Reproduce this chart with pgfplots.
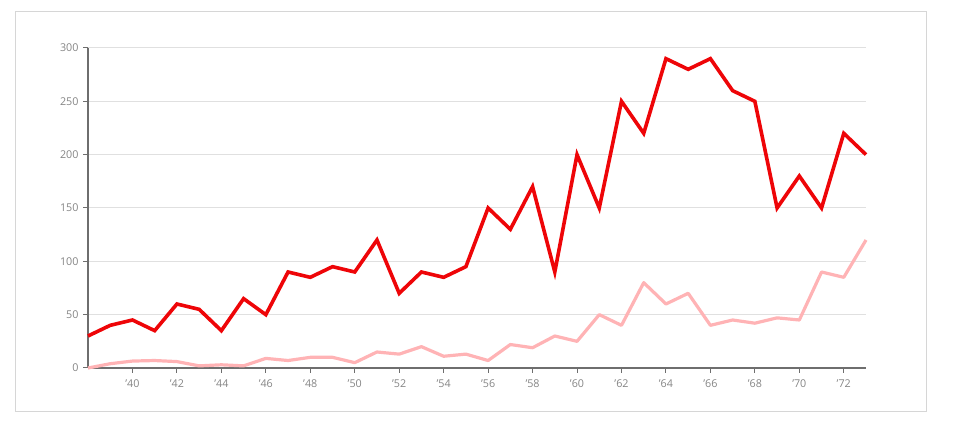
\documentclass[border=0pt]{standalone}
\usepackage{pgfplots}
\pgfplotsset{compat=1.18}
\usepackage{fontspec}
\setmainfont{Open Sans}
\definecolor{redline}{HTML}{EE0508}
\definecolor{pinkline}{HTML}{FFB3B5}
\definecolor{axisgray}{HTML}{6E6E6E}
\definecolor{labelgray}{HTML}{858585}
\definecolor{gridgray}{HTML}{E0E0E0}
\definecolor{framegray}{HTML}{D6D6D6}
\begin{document}
\begin{tikzpicture}[x=1bp,y=1bp]
\path (0,0) rectangle (970,438);
\draw[framegray, line width=1bp] (15.5,26) rectangle (926.5,426);
\begin{axis}[
  at={(88bp,70bp)}, anchor=south west,
  scale only axis, width=778bp, height=320bp,
  xmin=1938, xmax=1973, ymin=0, ymax=300,
  axis x line*=bottom, axis y line*=left,
  axis line style={axisgray, line width=1.2bp, -},
  xtick={1940,1942,...,1972},
  xticklabels={’40,’42,’44,’46,’48,’50,’52,’54,’56,’58,’60,’62,’64,’66,’68,’70,’72},
  ytick={0,50,100,150,200,250,300},
  tick align=outside,
  major tick length=5bp,
  tick style={axisgray, line width=1bp},
  ymajorgrids, grid style={gridgray, line width=1bp},
  tick label style={font=\fontsize{10.8}{12}\selectfont, text=labelgray},
  /pgf/number format/assume math mode=true,
  xticklabel style={yshift=-3bp},
  yticklabel style={xshift=-1bp},
  clip=false,
]
\addplot[pinkline, line width=3.2bp, line join=round] coordinates {
(1938,0) (1939,4) (1940,6.5) (1941,7) (1942,6) (1943,2) (1944,3) (1945,2)
(1946,9) (1947,7) (1948,10) (1949,10) (1950,5) (1951,15) (1952,13) (1953,20)
(1954,11) (1955,13) (1956,7) (1957,22) (1958,19) (1959,30) (1960,25) (1961,50)
(1962,40) (1963,80) (1964,60) (1965,70) (1966,40) (1967,45) (1968,42) (1969,47)
(1970,45) (1971,90) (1972,85) (1973,120)
};
\addplot[redline, line width=3.6bp, line join=miter] coordinates {
(1938,30) (1939,40) (1940,45) (1941,35) (1942,60) (1943,55) (1944,35) (1945,65)
(1946,50) (1947,90) (1948,85) (1949,95) (1950,90) (1951,120) (1952,70) (1953,90)
(1954,85) (1955,95) (1956,150) (1957,130) (1958,170) (1959,90) (1960,200) (1961,150)
(1962,250) (1963,220) (1964,290) (1965,280) (1966,290) (1967,260) (1968,250) (1969,150)
(1970,180) (1971,150) (1972,220) (1973,200)
};
\end{axis}
\end{tikzpicture}
\end{document}
